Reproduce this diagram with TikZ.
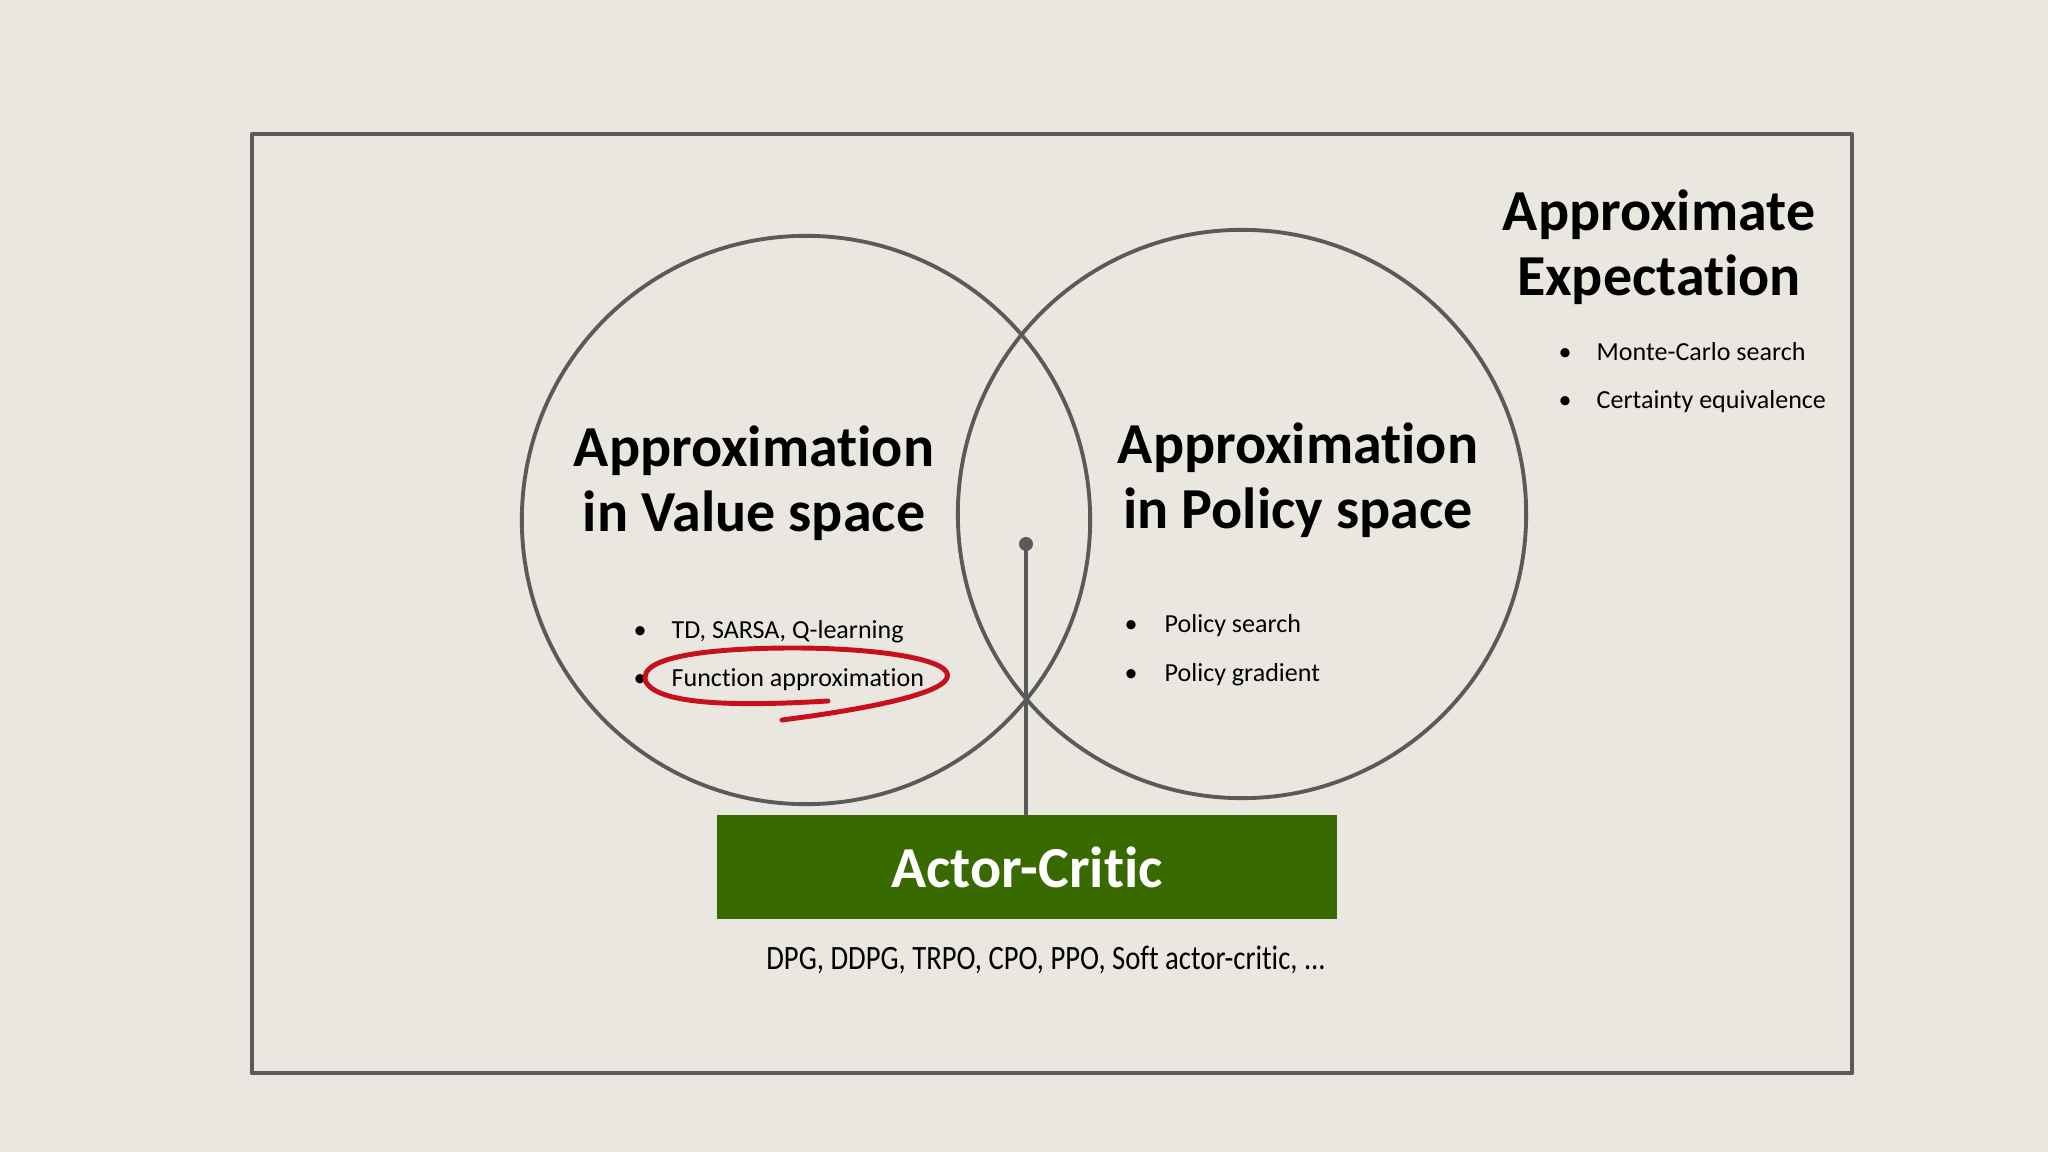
\documentclass[tikz,border=0pt]{standalone}
\usepackage{fontspec}
\setmainfont[Ligatures=CommonOff]{Carlito}
\newfontfamily\narrowfont[FakeStretch=0.84,Ligatures=CommonOff]{Carlito}
\usetikzlibrary{positioning}
\definecolor{paper}{HTML}{E9E7E0}
\definecolor{slate}{HTML}{5A5A5A}
\definecolor{leafgreen}{HTML}{386A00}
\definecolor{inkred}{HTML}{C8101A}
\begin{document}
\begin{tikzpicture}[line cap=round,line join=round,x=0.01cm,y=-0.01cm,
  heading/.style={font=\fontsize{16.5}{18.4}\selectfont\bfseries,align=center,inner sep=0pt},
  bullet/.style={font=\fontsize{7.4}{9}\selectfont,anchor=base west,inner sep=0pt}]
\fill[color=paper] (0,0) rectangle (2048,1152);
\useasboundingbox (0,0) rectangle (2048,1152);
% frame and the two spaces
\draw[line width=1.2pt,color=slate] (252,134) rectangle (1852,1073);
\coordinate (vc) at (806,520);
\coordinate (pc) at (1242,514);
\draw[line width=1.1pt,color=slate] (vc) circle[radius=2.84cm];
\draw[line width=1.1pt,color=slate] (pc) circle[radius=2.84cm];
% headings
\node[heading] (val) at (754,483) {Approximation\\in Value space};
\node[heading] (pol) at (1298,480) {Approximation\\in Policy space};
\node[heading] (exp) at (1659,247) {Approximate\\Expectation};
% bullet lists
\foreach \t [count=\i] in {{TD, SARSA, Q-learning},{Function approximation}}
\node[bullet] (vb\i) at (633,590+48*\i) {\makebox[0.38cm][l]{\textbullet}\t};
\foreach \t [count=\i] in {{Policy search},{Policy gradient}}
\node[bullet] (pb\i) at (1124,585+48*\i) {\makebox[0.4cm][l]{\textbullet}\t};
\foreach \t [count=\i] in {{Monte-Carlo search},{Certainty equivalence}}
\node[bullet] (eb\i) at (1558,313+48*\i) {\makebox[0.38cm][l]{\textbullet}\t};
% actor-critic box
\node[fill=leafgreen,minimum width=6.2cm,minimum height=1.045cm,inner sep=0pt,
  text=white,font=\fontsize{16.5}{18}\selectfont\bfseries] (ac) at (1027,867) {Actor-Critic};
\node[font=\fontsize{9.7}{11}\narrowfont,anchor=base,inner sep=0pt] (algs) at (1046,969)
  {DPG, DDPG, TRPO, CPO, PPO, Soft actor-critic, ...};
\coordinate (hub) at (1026,544);
\draw[line width=1.1pt,color=slate] (hub) -- (hub |- ac.north);
\fill[color=slate] (hub) circle (0.07cm);
% red mark round function approximation
\draw[line width=1.4pt,color=inkred] (828,701) .. controls (760,705) and (660,708) .. (646,682)
  .. controls (635,655) and (720,648) .. (793,648) .. controls (880,648) and (955,660) .. (947,678)
  .. controls (940,695) and (860,710) .. (782,720);
\end{tikzpicture}
\end{document}
